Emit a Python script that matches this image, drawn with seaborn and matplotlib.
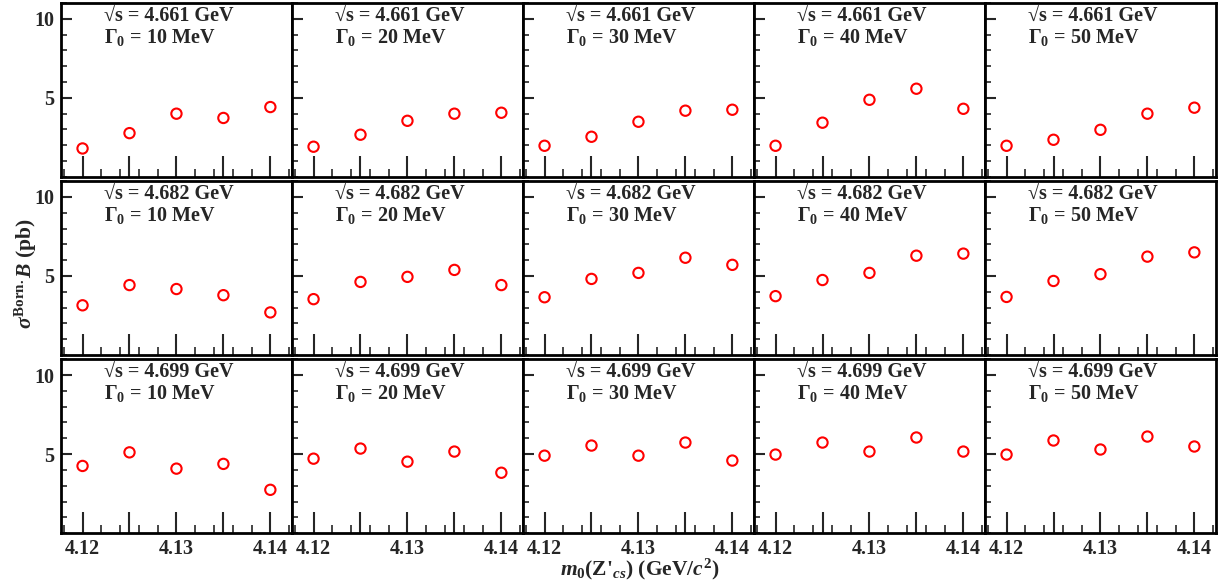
import matplotlib
matplotlib.use('Agg')
import matplotlib.pyplot as plt
import matplotlib.ticker as mticker
import numpy as np
import pandas as pd
import seaborn as sns

sns.set_style('ticks')
plt.rcParams['font.family'] = ['Liberation Serif', 'DejaVu Serif']
plt.rcParams['font.weight'] = 'bold'
plt.rcParams['mathtext.fontset'] = 'custom'
plt.rcParams['mathtext.rm'] = 'Liberation Serif:bold'
plt.rcParams['mathtext.bf'] = 'Liberation Serif:bold'
plt.rcParams['mathtext.it'] = 'Liberation Serif:italic:bold'

masses = [4.12, 4.125, 4.13, 4.135, 4.14]
energies = ['4.661', '4.682', '4.699']
widths = [10, 20, 30, 40, 50]

# sigma_born * B (pb), rows = sqrt(s), columns = Gamma_0
xsec_4661 = [[1.79, 2.76, 3.99, 3.72, 4.41],
             [1.90, 2.66, 3.54, 3.99, 4.05],
             [1.96, 2.53, 3.48, 4.18, 4.24],
             [1.96, 3.42, 4.87, 5.57, 4.30],
             [1.96, 2.34, 2.97, 3.99, 4.37]]
xsec_4682 = [[3.14, 4.42, 4.17, 3.78, 2.69],
             [3.53, 4.62, 4.94, 5.38, 4.42],
             [3.65, 4.81, 5.19, 6.15, 5.70],
             [3.72, 4.74, 5.19, 6.28, 6.41],
             [3.67, 4.68, 5.11, 6.22, 6.49]]
xsec_4699 = [[4.25, 5.11, 4.08, 4.38, 2.74],
             [4.71, 5.35, 4.52, 5.16, 3.82],
             [4.90, 5.54, 4.90, 5.73, 4.59],
             [4.97, 5.73, 5.16, 6.05, 5.16],
             [4.97, 5.86, 5.29, 6.11, 5.48]]
all_xsec = [xsec_4661, xsec_4682, xsec_4699]

fig, axes = plt.subplots(3, 5, figsize=(12.19, 5.82), dpi=100,
                         sharex=True, sharey=True)
fig.subplots_adjust(left=0.05, right=0.9975, top=0.995, bottom=0.084,
                    wspace=0, hspace=0.025)


def xfmt(v, pos):
    if abs(round(v * 100) - v * 100) < 1e-6:
        return f'{v:.2f}'
    return ''


for i, ecm in enumerate(energies):
    for j, w in enumerate(widths):
        ax = axes[i, j]
        df = pd.DataFrame({'mass': masses, 'xsec': all_xsec[i][j]})
        sns.scatterplot(data=df, x='mass', y='xsec', ax=ax, marker='o',
                        s=55, facecolors='none', edgecolor='red',
                        linewidth=1.5, zorder=3)
        ax.set_xlim(4.1177, 4.1423)
        ax.set_ylim(0, 11)
        ax.set_xlabel('')
        ax.set_ylabel('')
        ax.set_yticks([5, 10])
        ax.yaxis.set_minor_locator(mticker.MultipleLocator(1))
        ax.xaxis.set_major_locator(mticker.MultipleLocator(0.005))
        ax.xaxis.set_minor_locator(mticker.MultipleLocator(0.002))
        ax.xaxis.set_major_formatter(mticker.FuncFormatter(xfmt))
        ax.tick_params(axis='x', which='major', direction='in', length=15,
                       width=1.5, labelsize=14.5, pad=4)
        ax.tick_params(axis='x', which='minor', direction='in', length=6,
                       width=1.2)
        ax.tick_params(axis='y', which='major', direction='in', length=8,
                       width=1.5, labelsize=14.5, pad=5)
        ax.tick_params(axis='y', which='minor', direction='in', length=4,
                       width=1.2)
        for sp in ax.spines.values():
            sp.set_linewidth(2)
            sp.set_color('black')
        ax.text(0.185, 0.978, f'\u221as = {ecm} GeV\n\u0393$_{{0}}$ = {w} MeV',
                transform=ax.transAxes, ha='left', va='top', fontsize=14.5,
                fontweight='bold', linespacing=1.0)

fig.text(0.021, 0.53, r'$\sigma^{\mathrm{Born.}}\mathit{B}$ (pb)',
         rotation=90, ha='center', va='center', fontsize=15.5, fontweight='bold')
fig.text(0.525, 0.022, r"$\mathit{m}_{0}$(Z$'_{\mathit{cs}}$) (GeV/$\mathit{c}^{2}$)",
         ha='center', va='center', fontsize=15.5, fontweight='bold')

fig.savefig('out.png', dpi=100)
